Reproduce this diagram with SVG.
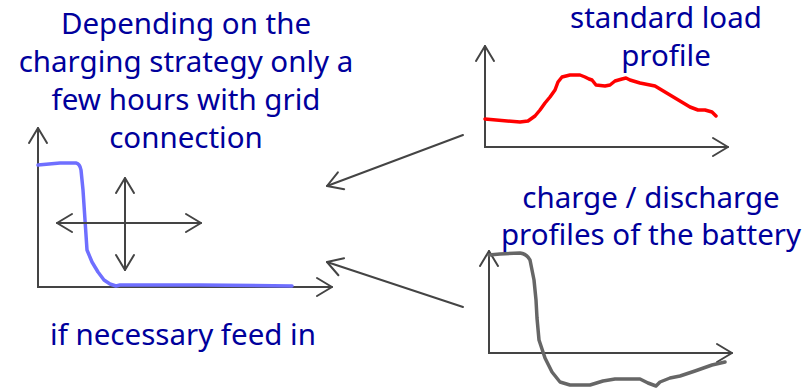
<svg xmlns="http://www.w3.org/2000/svg" width="808" height="388" viewBox="0 0 808 388">
<defs>
<marker id="ah" markerUnits="userSpaceOnUse" markerWidth="30" markerHeight="30" viewBox="-20 -15 30 30" refX="0" refY="0" orient="auto-start-reverse">
<path d="M-15,-9 L0,0 L-15,9" fill="none" stroke="#444" stroke-width="2" stroke-linecap="round" stroke-linejoin="round"/>
</marker>
</defs>
<style>
.lbl{font-family:"Noto Sans","DejaVu Sans",sans-serif;font-size:29.5px;fill:#00009c;text-anchor:middle}
.ax{fill:none;stroke:#444;stroke-width:2;stroke-linecap:round}
.curve{fill:none;stroke-width:3.5;stroke-linecap:round;stroke-linejoin:round}
</style>
<rect width="808" height="388" fill="#fff"/>
<g id="left-chart">
<polyline class="ax" points="38,128 38,287 332,287" marker-start="url(#ah)" marker-end="url(#ah)"/>
<path class="curve" stroke="#6f6fff" d="M38,165 L60,163 L76,163 Q80,164 81,170 L83,190 L85,220 L87,250 L92,262 L98,272 L104,280 L110,284 L116,286 L120,285 L200,285 L292,286"/>
<line class="ax" x1="125" y1="178" x2="125" y2="270" marker-start="url(#ah)" marker-end="url(#ah)"/>
<line class="ax" x1="57" y1="223" x2="201" y2="223" marker-start="url(#ah)" marker-end="url(#ah)"/>
</g>
<g id="load-chart">
<polyline class="ax" points="485,46 485,147 728,147" marker-start="url(#ah)" marker-end="url(#ah)"/>
<path class="curve" stroke="#ff0000" d="M485,119 L520,122 L528,121 L535,116 L540,110 L545,103 L550,97 L555,90 L558,82 L562,77 L570,75 L580,75 L585,77 L589,79 L592,80 L596,85 L605,86 L610,85 L615,81 L622,79 L626,78 L630,80 L640,83 L650,85 L655,86 L665,92 L680,101 L690,107 L698,110 L705,110 L712,112 L716,116"/>
</g>
<g id="battery-chart">
<polyline class="ax" points="489,251 489,353 732,353" marker-start="url(#ah)" marker-end="url(#ah)"/>
<path class="curve" stroke="#666" d="M489,255 L500,254 L520,253 Q527,254 530,260 L534,280 L536,300 L537,318 L539,340 L545,358 L552,372 L560,382 L570,385 L590,385 L603,381 L615,379 L640,379 L648,383 L656,386 L660,382 L670,378 L680,376 L695,371 L712,365 L725,362"/>
</g>
<g id="connectors">
<line class="ax" x1="463" y1="135" x2="327" y2="186" marker-end="url(#ah)"/>
<line class="ax" x1="463" y1="307" x2="327" y2="262" marker-end="url(#ah)"/>
</g>
<g id="labels">
<text class="lbl" x="186" y="34">Depending on the</text>
<text class="lbl" x="186" y="72">charging strategy only a</text>
<text class="lbl" x="186" y="110">few hours with grid</text>
<text class="lbl" x="186" y="148">connection</text>
<text class="lbl" x="666" y="28">standard load</text>
<text class="lbl" x="666" y="66">profile</text>
<text class="lbl" x="651" y="208">charge / discharge</text>
<text class="lbl" x="651" y="245">profiles of the battery</text>
<text class="lbl" x="183" y="345">if necessary feed in</text>
</g>
</svg>
